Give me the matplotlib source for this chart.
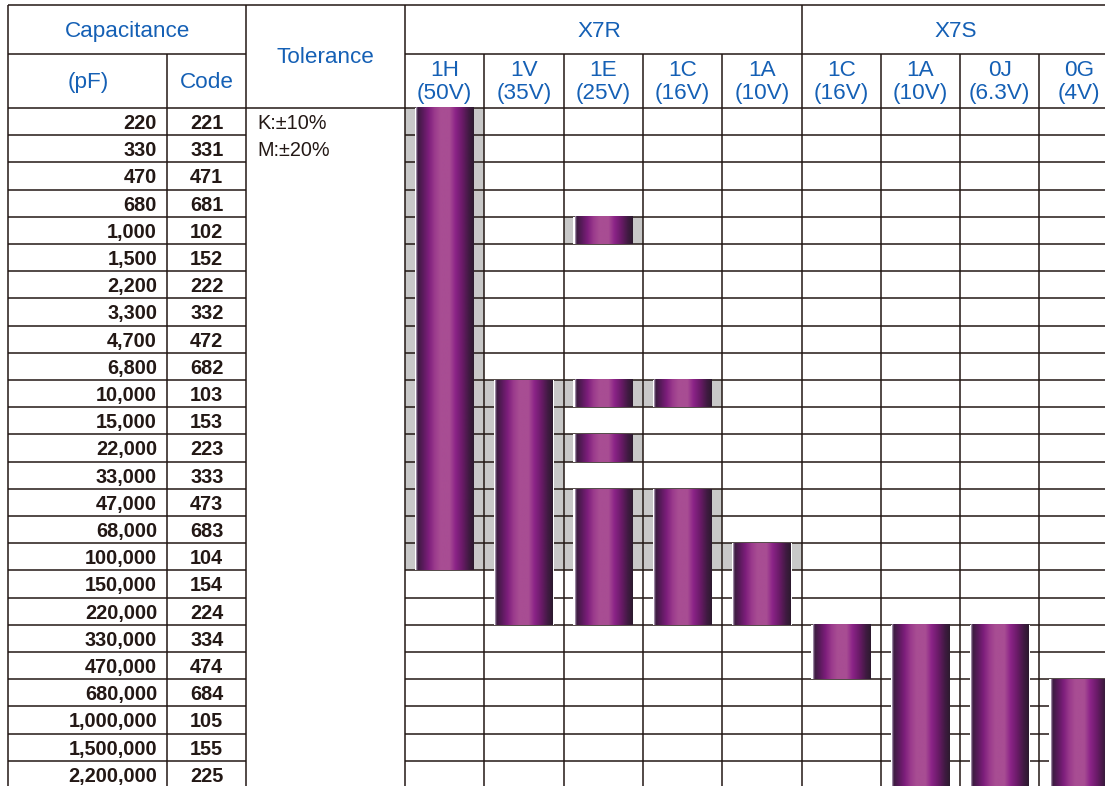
import numpy as np
import matplotlib
matplotlib.use("Agg")
import matplotlib.pyplot as plt
from matplotlib.colors import LinearSegmentedColormap
from matplotlib.patches import Rectangle

plt.rcParams['font.family'] = ['Liberation Sans', 'DejaVu Sans']

# capacitance rows
caps_pf = [220, 330, 470, 680, 1000, 1500, 2200, 3300, 4700, 6800,
           10000, 15000, 22000, 33000, 47000, 68000, 100000, 150000, 220000,
           330000, 470000, 680000, 1000000, 1500000, 2200000]
codes = ['221', '331', '471', '681', '102', '152', '222', '332', '472', '682',
         '103', '153', '223', '333', '473', '683', '104', '154', '224',
         '334', '474', '684', '105', '155', '225']
tolerances = ['K:±10%', 'M:±20%']

# dielectric groups and voltage columns
groups = ['X7R', 'X7S']
group_sizes = [5, 4]
volt_codes = ['1H', '1V', '1E', '1C', '1A', '1C', '1A', '0J', '0G']
volt_ratings = ['50V', '35V', '25V', '16V', '10V', '16V', '10V', '6.3V', '4V']

# available capacitance ranges (min pF, max pF) per voltage column
ranges = [
    [(220, 100000)],
    [(10000, 220000)],
    [(1000, 1000), (10000, 10000), (22000, 22000), (47000, 220000)],
    [(10000, 10000), (47000, 220000)],
    [(100000, 220000)],
    [(330000, 470000)],
    [(330000, 2200000)],
    [(330000, 2200000)],
    [(680000, 2200000)],
]
shaded_max = 100000  # grey background up to this value

line_c = '#231815'
blue = '#1560b5'
grey = '#c8c8c8'
lw = 1.1
hfs = 16.2   # header font size
dfs = 14.3   # row font size
dy = 0.07    # small baseline nudge

bar_cmap = LinearSegmentedColormap.from_list('cap', [
    (0.00, '#b9a9c2'), (0.03, '#3c1c40'), (0.12, '#5a1a5c'),
    (0.22, '#7e1e7c'), (0.32, '#9a3a8c'), (0.42, '#a84d93'),
    (0.58, '#a84d93'), (0.68, '#8c2488'), (0.80, '#6a1a68'),
    (0.92, '#3e1a40'), (1.00, '#2c1a2e')])
grad = np.linspace(0, 1, 256).reshape(1, -1)

fig = plt.figure(figsize=(11.05, 7.86), dpi=100)
ax = fig.add_axes([0, 0, 1, 1])
ax.axis('off')

n_rows = len(caps_pf)
n_cols = len(volt_codes)
top = -3.79
x_end = n_cols + 0.5

# header text
ax.text(-3.5, -2.9 + dy, 'Capacitance', color=blue, fontsize=hfs, ha='center', va='center')
ax.text(-4.0, -0.99 + dy, '(pF)', color=blue, fontsize=hfs, ha='center', va='center')
ax.text(-2.5, -0.99 + dy, 'Code', color=blue, fontsize=hfs, ha='center', va='center')
ax.text(-1.0, -1.91 + dy, 'Tolerance', color=blue, fontsize=hfs, ha='center', va='center')
start = 0
for g, size in zip(groups, group_sizes):
    ax.text(start + size / 2 - 0.05, -2.9 + dy, g, color=blue, fontsize=hfs, ha='center', va='center')
    start += size
for i, (vc, vr) in enumerate(zip(volt_codes, volt_ratings)):
    ax.text(i + 0.5, -1.43 + dy, vc, color=blue, fontsize=hfs, ha='center', va='center')
    ax.text(i + 0.5, -0.59 + dy, f'({vr})', color=blue, fontsize=hfs, ha='center', va='center')

# row text
for r, (c, code) in enumerate(zip(caps_pf, codes)):
    ax.text(-3.127, r + 0.5 + dy, f'{c:,}', fontsize=dfs, fontweight='bold',
            color='#231815', ha='right', va='center')
    ax.text(-2.5, r + 0.5 + dy, code, fontsize=dfs, fontweight='bold',
            color='#231815', ha='center', va='center')
for r, t in enumerate(tolerances):
    ax.text(-1.866, r + 0.5 + dy, t, fontsize=dfs, color='#231815', ha='left', va='center')

# grey background cells
for col, rng in enumerate(ranges):
    for lo, hi in rng:
        r0, r1 = caps_pf.index(lo), caps_pf.index(hi)
        for r in range(r0, r1 + 1):
            if caps_pf[r] <= shaded_max:
                ax.add_patch(Rectangle((col, r), 1, 1, facecolor=grey,
                                       edgecolor='none', zorder=1))

# grid lines
ax.hlines(top, -5, x_end, color=line_c, lw=lw, zorder=2)
ax.hlines(-2, -5, -2, color=line_c, lw=lw, zorder=2)
ax.hlines(-2, 0, x_end, color=line_c, lw=lw, zorder=2)
ax.hlines(0, -5, x_end, color=line_c, lw=lw, zorder=2)
for r in range(1, n_rows + 1):
    ax.hlines(r, -5, -2, color=line_c, lw=lw, zorder=2)
    ax.hlines(r, 0, x_end, color=line_c, lw=lw, zorder=2)
bottom = n_rows + 1
for x in [-5, -2, 0, group_sizes[0]]:
    ax.vlines(x, top, bottom, color=line_c, lw=lw, zorder=2)
ax.vlines(-3, -2, bottom, color=line_c, lw=lw, zorder=2)
for x in range(1, n_cols + 1):
    if x != group_sizes[0]:
        ax.vlines(x, -2, bottom, color=line_c, lw=lw, zorder=2)

# bars
bw = 0.72
pad = 0.016
for col, rng in enumerate(ranges):
    x0 = col + (1 - bw) / 2
    for lo, hi in rng:
        r0, r1 = caps_pf.index(lo), caps_pf.index(hi) + 1
        ax.add_patch(Rectangle((x0 - pad, r0), bw + 2 * pad, r1 - r0,
                               facecolor='white', edgecolor='none', zorder=3))
        ax.imshow(grad, cmap=bar_cmap, aspect='auto', interpolation='bilinear',
                  extent=(x0, x0 + bw, r1, r0), zorder=4)

ax.set_xlim(-5.107, 8.827)
ax.set_ylim(24.93, -3.97)
fig.savefig('out.png', dpi=100)
